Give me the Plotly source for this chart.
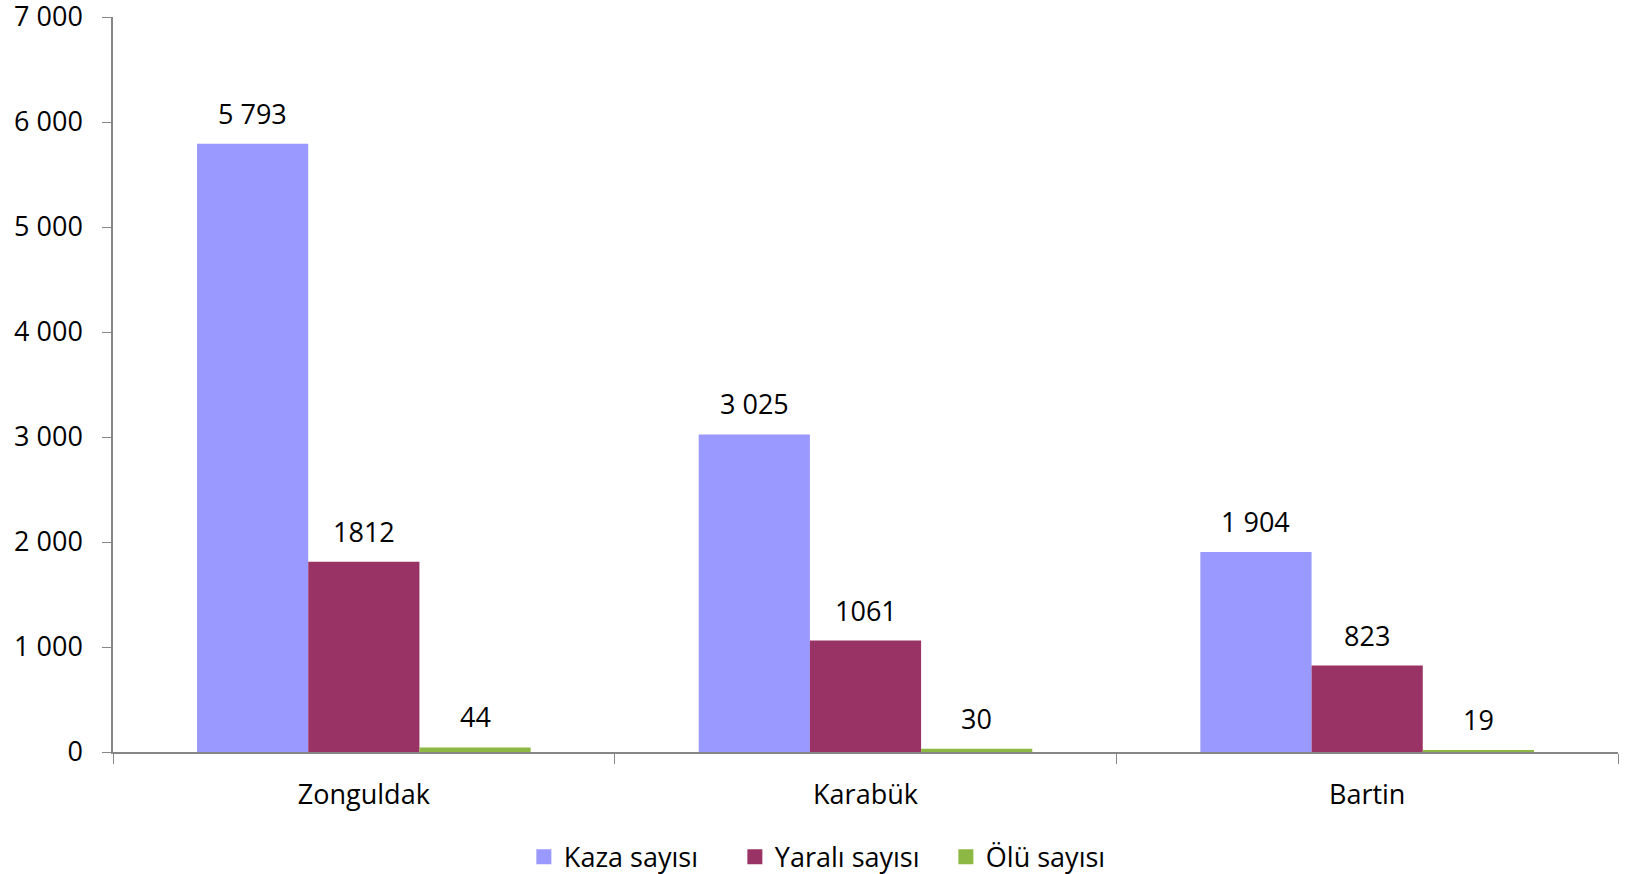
import plotly.graph_objects as go

categories = ["Zonguldak", "Karabük", "Bartin"]
kaza = [5793, 3025, 1904]
yarali = [1812, 1061, 823]
olu = [44, 30, 19]
kaza_labels = ["5 793", "3 025", "1 904"]
yarali_labels = ["1812", "1061", "823"]
olu_labels = ["44", "30", "19"]
series_names = ["Kaza sayısı", "Yaralı sayısı", "Ölü sayısı"]
colors = ["#9999FF", "#993366", "#8DB843"]
tick_vals = [0, 1000, 2000, 3000, 4000, 5000, 6000, 7000]

FONT = "Open Sans"
FS = 27
BARGAP = 0.335

series = [kaza, yarali, olu]
labels = [kaza_labels, yarali_labels, olu_labels]

fig = go.Figure()
for name, vals, col in zip(series_names, series, colors):
    fig.add_trace(go.Bar(
        x=categories, y=vals, name=name, showlegend=False,
        marker=dict(color=col, line=dict(width=0)),
    ))
# legend entries with larger square swatches
for name, col in zip(series_names, colors):
    fig.add_trace(go.Scatter(
        x=[None], y=[None], name=name, mode="markers",
        marker=dict(symbol="square", size=15, color=col),
        showlegend=True, hoverinfo="skip",
    ))

# data labels, placed with the categorical axis' own coordinates
n = len(series)
bw = (1 - BARGAP) / n
annotations = []
for k, (vals, labs) in enumerate(zip(series, labels)):
    for i, (v, lab) in enumerate(zip(vals, labs)):
        annotations.append(dict(
            x=i + (k - (n - 1) / 2) * bw, y=v, xref="x", yref="y",
            text=lab, showarrow=False, yanchor="bottom", yshift=10,
            font=dict(family=FONT, size=FS, color="#000000"),
        ))

fig.update_layout(
    width=1628, height=874,
    paper_bgcolor="white", plot_bgcolor="white",
    barmode="group", bargap=BARGAP, bargroupgap=0,
    separators=", ",
    margin=dict(l=113, r=10, t=17, b=122, autoexpand=False),
    font=dict(family=FONT, size=FS, color="#000000"),
    showlegend=True,
    legend=dict(orientation="h", x=0.273, xanchor="left", y=-0.143, yanchor="middle",
                font=dict(family=FONT, size=FS), entrywidth=166, entrywidthmode="pixels",
                traceorder="normal", itemclick=False, itemdoubleclick=False),
    annotations=annotations,
)
fig.update_xaxes(
    showline=True, linecolor="#868686", linewidth=1.5,
    ticks="outside", tickson="boundaries", ticklen=10, tickcolor="#868686",
    showgrid=False, tickfont=dict(family=FONT, size=FS), ticklabelstandoff=18,
)
fig.update_yaxes(
    range=[0, 7000], tickvals=tick_vals, tickformat=",",
    showline=True, linecolor="#868686", linewidth=1.5,
    ticks="outside", ticklen=9, tickcolor="#868686",
    showgrid=False, zeroline=False, tickfont=dict(family=FONT, size=FS),
    ticklabelstandoff=14, ticklabeloverflow="allow",
)

fig.write_html(
    "out.html",
    config={"displayModeBar": False},
    post_script="document.body.style.margin='0';document.body.style.overflow='hidden';",
)
